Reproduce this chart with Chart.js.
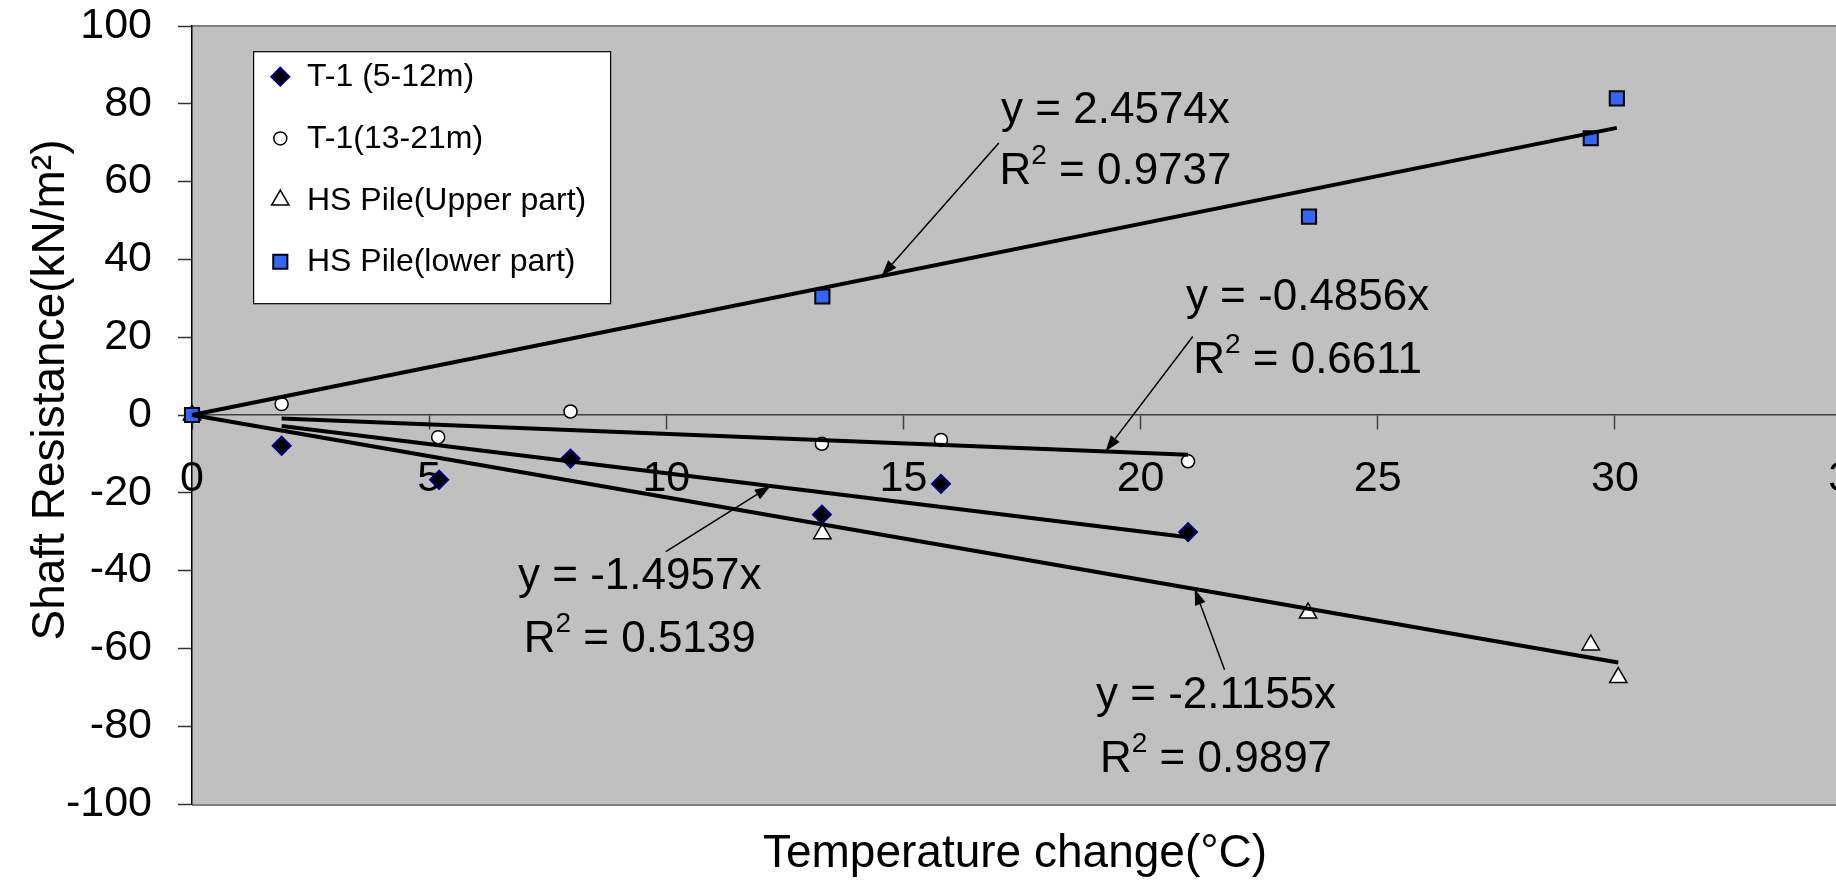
<!DOCTYPE html>
<html lang="en">
<head>
<meta charset="UTF-8" />
<title>Shaft resistance vs temperature change</title>
<style>
  html, body { margin: 0; padding: 0; background: #fff; overflow: hidden; }
  .wrap { width: 1900px; height: 882px; }
</style>
</head>
<body>
<div class="wrap"><canvas id="myChart" width="1900" height="882"></canvas></div>
<script src="https://cdn.jsdelivr.net/npm/chart.js@4.4.0/dist/chart.umd.min.js"></script>
<script>
// series (temperature change in °C, shaft resistance in kN/m2)
var seriesNames = ["T-1 (5-12m)", "T-1(13-21m)", "HS Pile(Upper part)", "HS Pile(lower part)"];
var t1ShallowX = [1.89, 5.21, 7.98, 13.28, 15.79, 21.0];
var t1ShallowY = [-7.9, -16.65, -11.2, -25.6, -17.7, -30.1];
var t1DeepX = [1.89, 5.19, 7.98, 13.28, 15.79, 21.0];
var t1DeepY = [2.8, -5.7, 0.9, -7.4, -6.4, -11.9];
var hsUpperX = [0, 13.29, 23.53, 29.49, 30.07];
var hsUpperY = [0, -30.5, -50.9, -59.1, -67.5];
var hsLowerX = [0, 13.29, 23.55, 29.49, 30.04];
var hsLowerY = [0, 30.45, 51.0, 71.15, 81.4];

// linear trend lines through the origin, as printed on the chart
var trendSlopes = [-1.4957, -0.4856, -2.1155, 2.4574];
var trendR2 = [0.5139, 0.6611, 0.9897, 0.9737];

// axis ticks
var xTickMin = 0, xTickMax = 35, xTickStep = 5;
var yTickMin = -100, yTickMax = 100, yTickStep = 20;

var FONT = "'Liberation Sans', Arial, Helvetica, sans-serif";
Chart.defaults.font.family = FONT;
Chart.defaults.color = "#000";

function toPoints(xs, ys) {
  return xs.map(function (x, i) { return { x: x, y: ys[i] }; });
}

function trendPoints(xs, slope) {
  var lo = Math.min.apply(null, xs), hi = Math.max.apply(null, xs);
  return [{ x: lo, y: slope * lo }, { x: hi, y: slope * hi }];
}

var markerStyles = [
  { pointStyle: "rectRot", radius: 9, backgroundColor: "#000000", borderColor: "#000080", borderWidth: 2 },
  { pointStyle: "circle", radius: 6.5, backgroundColor: "#ffffff", borderColor: "#000000", borderWidth: 1.5 },
  { pointStyle: "triangle", radius: 10, backgroundColor: "#ffffff", borderColor: "#000000", borderWidth: 1.5 },
  { pointStyle: "rect", radius: 10, backgroundColor: "#3366ff", borderColor: "#000000", borderWidth: 2 }
];

var seriesX = [t1ShallowX, t1DeepX, hsUpperX, hsLowerX];
var seriesY = [t1ShallowY, t1DeepY, hsUpperY, hsLowerY];

var datasets = [];
seriesNames.forEach(function (name, i) {
  var m = markerStyles[i];
  datasets.push({
    label: name,
    data: toPoints(seriesX[i], seriesY[i]),
    pointStyle: m.pointStyle,
    pointRadius: m.radius,
    pointHoverRadius: m.radius,
    pointBackgroundColor: m.backgroundColor,
    pointBorderColor: m.borderColor,
    pointBorderWidth: m.borderWidth,
    showLine: false,
    clip: false,
    order: 4 - i
  });
});
seriesNames.forEach(function (name, i) {
  datasets.push({
    label: name + " trend",
    data: trendPoints(seriesX[i], trendSlopes[i]),
    showLine: true,
    borderColor: "#000000",
    borderWidth: 4,
    pointRadius: 0,
    fill: false,
    clip: false,
    order: 0
  });
});

// where each equation sits (data units): text centre, two baselines, arrow tail, arrow head x
var trendNotes = [
  { series: 0, cx: 9.44, y1: -44.7, y2: -60.8, ax: 9.99, ay: -35.1, tipX: 12.2 },
  { series: 1, cx: 23.52, y1: 27.0, y2: 10.8, ax: 21.1, ay: 20.2, tipX: 19.26 },
  { series: 2, cx: 21.59, y1: -75.2, y2: -91.7, ax: 21.77, ay: -65.5, tipX: 21.14 },
  { series: 3, cx: 19.47, y1: 75.1, y2: 59.4, ax: 17.01, ay: 69.9, tipX: 14.54 }
];

function drawMarker(c, m, x, y) {
  var r = m.radius;
  c.beginPath();
  if (m.pointStyle === "circle") {
    c.arc(x, y, r, 0, Math.PI * 2);
  } else if (m.pointStyle === "rectRot") {
    c.moveTo(x - r, y); c.lineTo(x, y - r); c.lineTo(x + r, y); c.lineTo(x, y + r);
  } else if (m.pointStyle === "triangle") {
    c.moveTo(x, y - r);
    c.lineTo(x + r * Math.sin(Math.PI * 2 / 3), y - r * Math.cos(Math.PI * 2 / 3));
    c.lineTo(x - r * Math.sin(Math.PI * 2 / 3), y - r * Math.cos(Math.PI * 2 / 3));
  } else {
    var h = Math.SQRT1_2 * r;
    c.rect(x - h, y - h, 2 * h, 2 * h);
  }
  c.closePath();
  c.fillStyle = m.backgroundColor;
  c.fill();
  c.lineWidth = m.borderWidth;
  c.strokeStyle = m.borderColor;
  c.stroke();
}

// grey plot area with the thin grey frame lines
var plotFrame = {
  id: "plotFrame",
  beforeDraw: function (chart) {
    var a = chart.chartArea, c = chart.ctx;
    c.save();
    c.fillStyle = "#c0c0c0";
    c.fillRect(a.left, a.top, a.right - a.left, a.bottom - a.top);
    c.strokeStyle = "#808080";
    c.lineWidth = 2;
    c.beginPath();
    c.moveTo(a.left, a.top); c.lineTo(a.right, a.top);
    c.moveTo(a.left, a.bottom + 1); c.lineTo(a.right, a.bottom + 1);
    c.stroke();
    c.restore();
  }
};

// equations, R² values and arrows pointing at each trend line
var trendLabels = {
  id: "trendLabels",
  afterDatasetsDraw: function (chart) {
    var c = chart.ctx, xs = chart.scales.x, ys = chart.scales.y;
    var big = "44px " + FONT, small = "28px " + FONT;
    c.save();
    c.fillStyle = "#000";
    c.strokeStyle = "#000";
    trendNotes.forEach(function (n) {
      var slope = trendSlopes[n.series];
      var cx = xs.getPixelForValue(n.cx);
      c.font = big;
      c.textAlign = "center";
      c.textBaseline = "alphabetic";
      c.fillText("y = " + slope.toFixed(4) + "x", cx, ys.getPixelForValue(n.y1));

      var rest = " = " + trendR2[n.series].toFixed(4);
      var wR = c.measureText("R").width, wRest = c.measureText(rest).width;
      c.font = small;
      var w2 = c.measureText("2").width;
      var x = cx - (wR + w2 + wRest) / 2, by = ys.getPixelForValue(n.y2);
      c.textAlign = "left";
      c.font = big; c.fillText("R", x, by); x += wR;
      c.font = small; c.fillText("2", x, by - 20); x += w2;
      c.font = big; c.fillText(rest, x, by);

      var x0 = xs.getPixelForValue(n.ax), y0 = ys.getPixelForValue(n.ay);
      var x1 = xs.getPixelForValue(n.tipX), y1 = ys.getPixelForValue(slope * n.tipX);
      var ang = Math.atan2(y1 - y0, x1 - x0), len = 16, hw = 5.5;
      var bx = x1 - len * Math.cos(ang), byy = y1 - len * Math.sin(ang);
      c.lineWidth = 1.5;
      c.beginPath(); c.moveTo(x0, y0); c.lineTo(bx, byy); c.stroke();
      c.beginPath();
      c.moveTo(x1, y1);
      c.lineTo(bx + hw * Math.sin(ang), byy - hw * Math.cos(ang));
      c.lineTo(bx - hw * Math.sin(ang), byy + hw * Math.cos(ang));
      c.closePath(); c.fill();
    });
    c.restore();
  }
};

// boxed legend in the upper left of the plot, plus both axis titles
var legendAndTitles = {
  id: "legendAndTitles",
  afterDraw: function (chart) {
    var c = chart.ctx, a = chart.chartArea;
    c.save();
    var bx = a.left + 61.6, by = a.top + 25.7, bw = 357, bh = 252;
    c.fillStyle = "#fff";
    c.fillRect(bx, by, bw, bh);
    c.strokeStyle = "#000";
    c.lineWidth = 1.2;
    c.strokeRect(bx, by, bw, bh);
    c.font = "32px " + FONT;
    c.textAlign = "left";
    c.textBaseline = "alphabetic";
    seriesNames.forEach(function (name, i) {
      var my = by + 25 + i * 61.7;
      drawMarker(c, markerStyles[i], bx + 26.7, my);
      c.fillStyle = "#000";
      c.fillText(name, bx + 53.4, my + 9.5);
    });

    c.fillStyle = "#000";
    c.font = "46px " + FONT;
    c.textAlign = "center";
    c.fillText("Temperature change(\u00b0C)", (a.left + a.right) / 2 - 7, a.bottom + 62.5);
    c.translate(64.4, (a.top + a.bottom) / 2 - 25);
    c.rotate(-Math.PI / 2);
    c.fillText("Shaft Resistance(kN/m\u00b2)", 0, 0);
    c.restore();
  }
};

var ctx = document.getElementById("myChart");
var myChart = new Chart(ctx, {
  type: "scatter",
  data: { datasets: datasets },
  options: {
    responsive: false,
    animation: false,
    layout: { padding: { left: 0, top: 26, right: 46, bottom: 78 } },
    plugins: { legend: { display: false }, tooltip: { enabled: false } },
    scales: {
      x: {
        type: "linear",
        position: { y: 0 },
        min: xTickMin,
        max: xTickMax,
        afterFit: function (scale) { scale.paddingTop = 0; scale.paddingBottom = 0; },
        ticks: { stepSize: xTickStep, color: "#000", font: { size: 43 }, padding: 24, maxRotation: 0, autoSkip: false },
        grid: { drawOnChartArea: false, drawTicks: true, tickLength: 14, color: "#404040", tickWidth: 1.5 },
        border: { display: true, color: "#404040", width: 1.5 }
      },
      y: {
        type: "linear",
        position: "left",
        min: yTickMin,
        max: yTickMax,
        afterFit: function (scale) { scale.width = 192; scale.paddingTop = 0; scale.paddingBottom = 0; },
        ticks: { stepSize: yTickStep, color: "#000", font: { size: 43 }, padding: 26 },
        grid: { drawOnChartArea: false, drawTicks: true, tickLength: 14, color: "#333", tickWidth: 1.5 },
        border: { display: true, color: "#000", width: 1.5 }
      }
    }
  },
  plugins: [plotFrame, trendLabels, legendAndTitles]
});
</script>
</body>
</html>
